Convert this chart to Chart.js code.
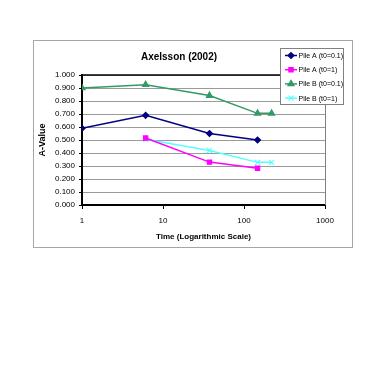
<!DOCTYPE html>
<html>
<head>
<meta charset="utf-8">
<script src="https://cdn.jsdelivr.net/npm/chart.js@4/dist/chart.umd.min.js"></script>
<style>
  html, body { margin: 0; padding: 0; background: #fff; }
  #wrap { position: absolute; left: 0; top: 0; width: 387px; height: 371px; }
</style>
</head>
<body>
<div id="wrap"><canvas id="c" width="387" height="371"></canvas></div>
<script>
// ---- data ----
const chartTitle = "Axelsson (2002)";
const xTitle = "Time (Logarithmic Scale)";
const yTitle = "A-Value";
const xTickValues = [1, 10, 100, 1000];

const seriesNames = ["Pile A (t0=0.1)", "Pile A (t0=1)", "Pile B (t0=0.1)", "Pile B (t0=1)"];

const pileA01Time = [1, 6.1, 37.5, 147];
const pileA01Val  = [0.59, 0.69, 0.55, 0.50];

const pileA1Time = [6.1, 37.5, 147];
const pileA1Val  = [0.515, 0.33, 0.283];

const pileB01Time = [1, 6.1, 37.5, 147, 219];
const pileB01Val  = [0.90, 0.925, 0.842, 0.705, 0.705];

const pileB1Time = [6.1, 37.5, 147, 219];
const pileB1Val  = [0.505, 0.42, 0.328, 0.328];

const FONT = '"Liberation Sans Narrow", "Arial Narrow", "Liberation Sans", Arial, sans-serif';
Chart.defaults.font.family = FONT;
Chart.defaults.color = '#000';

function pts(xs, ys) { return xs.map((x, i) => ({ x: x, y: ys[i] })); }

function ds(label, xs, ys, color, style, radius) {
  return {
    label: label,
    data: pts(xs, ys),
    borderColor: color,
    backgroundColor: color,
    pointBorderColor: color,
    pointBackgroundColor: color,
    borderWidth: 1.5,
    pointStyle: style,
    pointRadius: radius,
    pointBorderWidth: 1.2,
    tension: 0,
    fill: false
  };
}

const datasets = [
  ds(seriesNames[0], pileA01Time, pileA01Val, '#000080', 'rectRot', 3),
  ds(seriesNames[1], pileA1Time, pileA1Val, '#ff00ff', 'rect', 3),
  ds(seriesNames[2], pileB01Time, pileB01Val, '#339966', 'triangle', 3.5),
  ds(seriesNames[3], pileB1Time, pileB1Val, '#55ffff', 'crossRot', 3.5)
];

const framePlugin = {
  id: 'frame',
  beforeDraw(chart) {
    const ctx = chart.ctx;
    ctx.save();
    ctx.fillStyle = '#fff';
    ctx.fillRect(0, 0, chart.width, chart.height);
    ctx.strokeStyle = '#a6a6a6';
    ctx.lineWidth = 1;
    ctx.strokeRect(33.5, 40.5, 319, 207);
    ctx.restore();
  },
  afterDatasetsDraw(chart) {
    const ctx = chart.ctx;
    const a = chart.chartArea;
    ctx.save();
    // top border black, right border grey
    ctx.strokeStyle = '#000';
    ctx.lineWidth = 1.5;
    ctx.beginPath();
    ctx.moveTo(a.left, a.top);
    ctx.lineTo(a.right, a.top);
    ctx.stroke();
    ctx.strokeStyle = '#808080';
    ctx.lineWidth = 1;
    ctx.beginPath();
    ctx.moveTo(Math.round(a.right) + 0.5, a.top);
    ctx.lineTo(Math.round(a.right) + 0.5, a.bottom);
    ctx.stroke();

    // legend box
    const bx = 280.5, by = 48.5, bw = 63, bh = 56;
    ctx.fillStyle = '#fff';
    ctx.fillRect(bx, by, bw, bh);
    ctx.strokeStyle = '#808080';
    ctx.lineWidth = 1;
    ctx.strokeRect(bx, by, bw, bh);
    ctx.textBaseline = 'middle';
    ctx.textAlign = 'left';
    chart.data.datasets.forEach((d, i) => {
      const y = 55.5 + i * 14.2;
      ctx.strokeStyle = d.borderColor;
      ctx.fillStyle = d.backgroundColor;
      ctx.lineWidth = 1.5;
      ctx.beginPath();
      ctx.moveTo(285, y);
      ctx.lineTo(297, y);
      ctx.stroke();
      ctx.lineWidth = 1.2;
      Chart.helpers.drawPoint(ctx, {
        pointStyle: d.pointStyle, radius: d.pointRadius, rotation: 0,
        borderWidth: 1.2
      }, 291, y);
      ctx.fillStyle = '#000';
      ctx.font = '7px ' + FONT;
      ctx.fillText(d.label, 298.5, y + 0.5);
    });
    ctx.restore();
  }
};

new Chart(document.getElementById('c'), {
  type: 'line',
  data: { datasets: datasets },
  plugins: [framePlugin],
  options: {
    responsive: false,
    animation: false,
    layout: { padding: { left: 33, right: 62, top: 40, bottom: 124 } },
    plugins: {
      legend: { display: false },
      tooltip: { enabled: false },
      title: {
        display: true,
        text: chartTitle,
        font: { size: 10, weight: 'bold', family: FONT, lineHeight: 1.3 },
        color: '#000',
        padding: { top: 11, bottom: 11 }
      }
    },
    scales: {
      x: {
        type: 'logarithmic',
        min: 1,
        max: 1000,
        afterBuildTicks(scale) { scale.ticks = xTickValues.map(v => ({ value: v })); },
        afterFit(scale) { scale.height = 42; },
        ticks: {
          font: { size: 8 },
          color: '#000',
          padding: 7,
          maxRotation: 0,
          autoSkip: false,
          callback: (v) => String(v)
        },
        grid: { drawOnChartArea: false, drawTicks: true, tickLength: 4, tickColor: '#000' },
        border: { color: '#000', width: 2 },
        title: {
          display: true,
          text: xTitle,
          font: { size: 8, weight: 'bold', lineHeight: 1.2 },
          color: '#000',
          padding: { top: 0, bottom: 5 }
        }
      },
      y: {
        min: 0,
        max: 1,
        afterFit(scale) { scale.width = 49; },
        ticks: {
          stepSize: 0.1,
          font: { size: 8 },
          color: '#000',
          padding: 4,
          callback: (v) => Number(v).toFixed(3)
        },
        grid: { color: '#9a9a9a', lineWidth: 1, drawTicks: true, tickLength: 3, tickColor: '#000' },
        border: { color: '#000', width: 2 },
        title: {
          display: true,
          text: yTitle,
          font: { size: 9, weight: 'bold', lineHeight: 1.2 },
          color: '#000',
          padding: { top: 4.6, bottom: 0 }
        }
      }
    }
  }
});
</script>
</body>
</html>
